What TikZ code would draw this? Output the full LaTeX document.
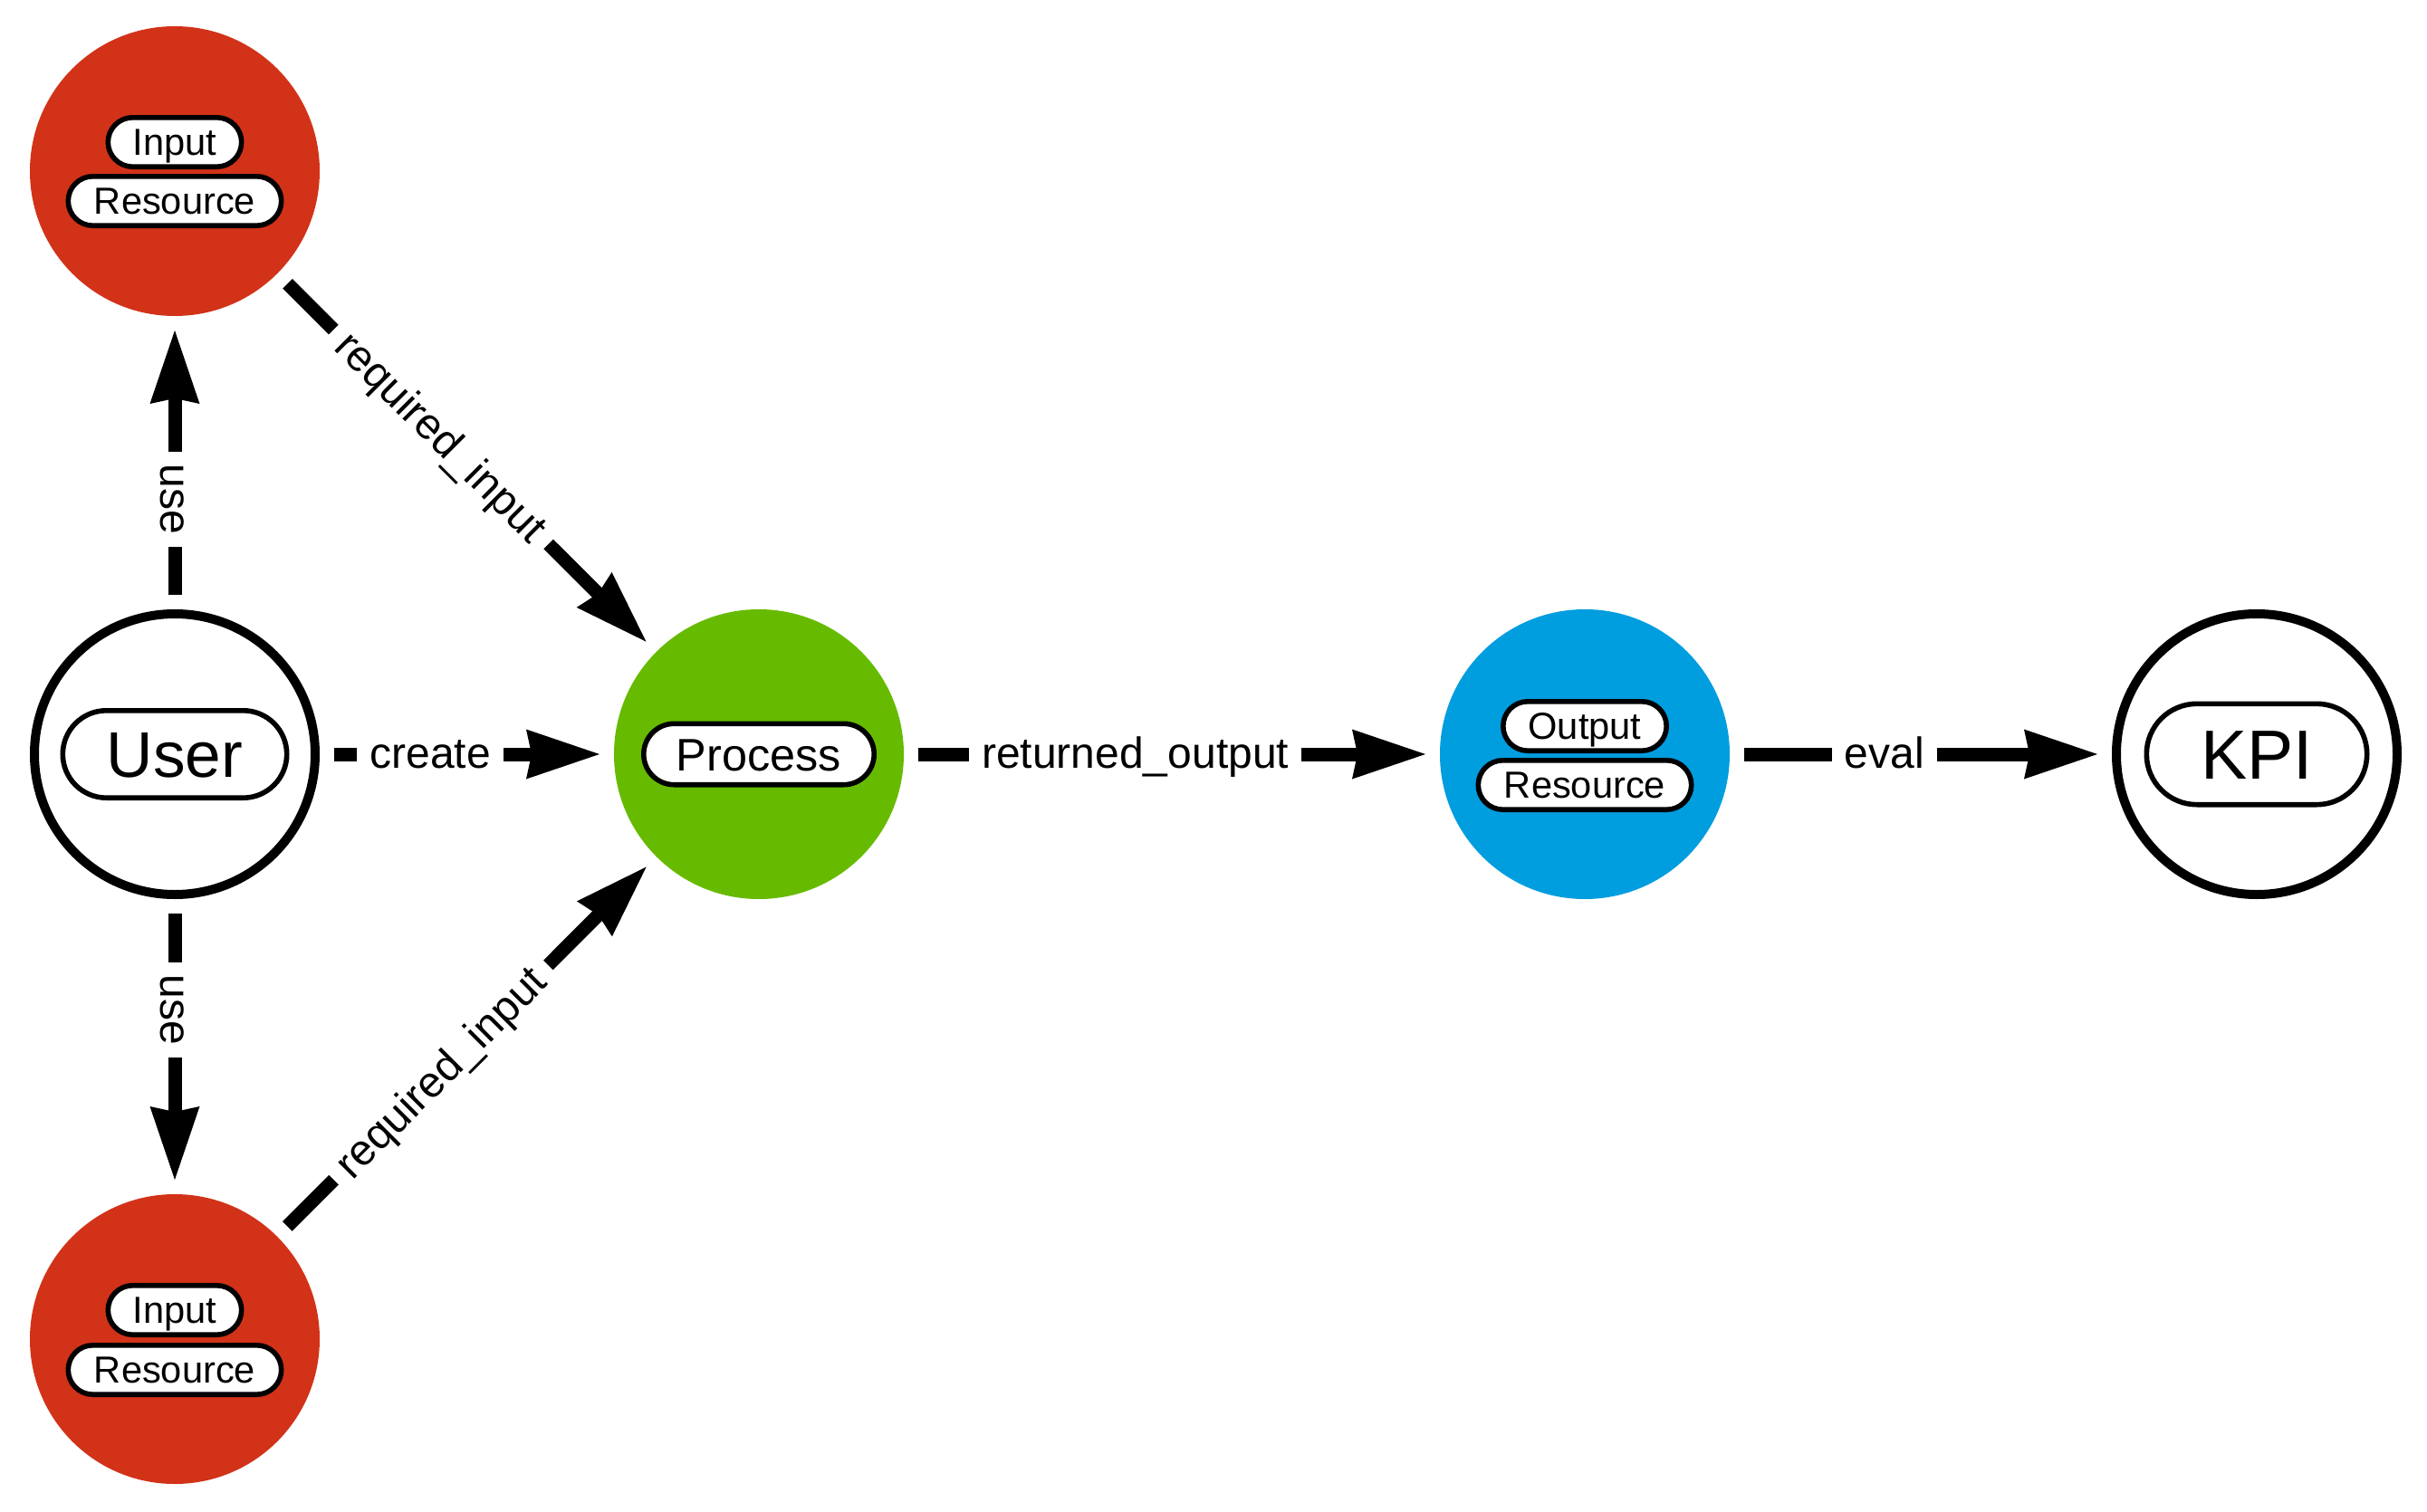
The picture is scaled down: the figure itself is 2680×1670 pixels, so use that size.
\documentclass[tikz,border=0pt]{standalone}
\usepackage{fontspec}
\setmainfont{Liberation Sans}
\usetikzlibrary{arrows.meta}
\definecolor{cred}{RGB}{210,50,24}
\definecolor{cgreen}{RGB}{102,187,0}
\definecolor{cblue}{RGB}{0,157,223}
\begin{document}
\begin{tikzpicture}[x=0.25pt,y=-0.25pt,
  fillc/.style={circle, fill=#1, draw=none, minimum size=80pt, inner sep=0pt, outer sep=4pt},
  ringc/.style={circle, draw=black, fill=white, line width=2.5pt, minimum size=77.5pt, inner sep=0pt, outer sep=5.25pt},
  pill/.style n args={5}{draw=black, fill=white, line width=1.4pt, rectangle, inner sep=0pt,
     minimum width=#1, minimum height=#2, rounded corners=#3,
     font=\fontsize{#4}{#4}\selectfont, text height=#5, text depth=0pt},
  smallpill/.style={pill={#1}{13.6pt}{6.8pt}{10.4pt}{7.47pt}},
  lbl/.style={fill=white, inner xsep=3.5pt, inner ysep=1.5pt, font=\fontsize{12pt}{14pt}\selectfont, text height=7.8pt, text depth=0pt},
  edge/.style={line width=3.75pt, -{Stealth[length=20.25pt, width=13.75pt, inset=1.5pt, line width=0pt]}}
]
\useasboundingbox (0,0) rectangle (2680,1670);

% circles
\node[fillc=cred] (inTop) at (193,189) {};
\node[ringc] (user) at (193,833) {};
\node[fillc=cred] (inBot) at (193,1479) {};
\node[fillc=cgreen] (process) at (838,833) {};
\node[fillc=cblue] (output) at (1750,833) {};
\node[ringc] (kpi) at (2492,833) {};

% pills
\node[smallpill=36.85pt] (inTopA) at (193,157) {Input};
\node[smallpill=58.85pt] (inTopB) at (193,222) {Resource};
\node[smallpill=36.85pt] (inBotA) at (193,1447) {Input};
\node[smallpill=58.85pt] (inBotB) at (193,1513) {Resource};
\node[smallpill=45.1pt] (outA) at (1750,802) {Output};
\node[smallpill=58.85pt] (outB) at (1750,867) {Resource};
\node[pill={61.85pt}{24.1pt}{12.05pt}{17.8pt}{12.8pt}] (userP) at (193,833) {User};
\node[pill={63.6pt}{16.85pt}{8.4pt}{12.6pt}{9.05pt}] (procP) at (838,833) {Process};
\node[pill={60.85pt}{27.85pt}{13.9pt}{19.2pt}{13.8pt}] (kpiP) at (2492,833) {KPI};

% edges
\draw[edge] (user) -- node[lbl, pos=0.362, rotate=-90] {use} (inTop);
\draw[edge] (user) -- node[lbl, pos=0.362, rotate=-90] {use} (inBot);
\draw[edge] (user) -- node[lbl, pos=0.362] {create} (process);
\draw[edge] (inTop) -- node[lbl, sloped, pos=0.428] {required\_input} (process);
\draw[edge] (inBot) -- node[lbl, sloped, pos=0.428] {required\_input} (process);
\draw[edge] (process) -- node[lbl, pos=0.428] {returned\_output} (output);
\draw[edge] (output) -- node[lbl, pos=0.397] {eval} (kpi);
\end{tikzpicture}
\end{document}
